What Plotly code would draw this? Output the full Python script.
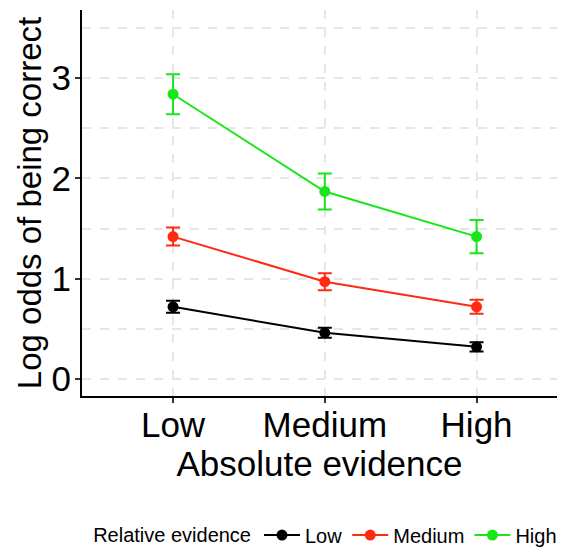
import plotly.graph_objects as go

# Absolute evidence levels (x categories)
absolute = ["Low", "Medium", "High"]

# Log odds of being correct per relative-evidence level
low_vals = [0.72, 0.46, 0.32]
low_err = [0.06, 0.05, 0.045]

medium_vals = [1.42, 0.97, 0.72]
medium_err = [0.09, 0.085, 0.07]

high_vals = [2.84, 1.87, 1.42]
high_err = [0.20, 0.18, 0.165]

series = [
    ("Low", low_vals, low_err, "#000000"),
    ("Medium", medium_vals, medium_err, "#ff2a12"),
    ("High", high_vals, high_err, "#19e619"),
]

fig = go.Figure()
for name, vals, err, color in series:
    fig.add_trace(go.Scatter(
        x=absolute, y=vals, name=name, mode="lines+markers",
        line=dict(color=color, width=2),
        marker=dict(color=color, size=11),
        error_y=dict(type="data", array=err, color=color, thickness=2, width=7),
    ))

font = "Liberation Sans, Arial, sans-serif"
grid = "#e6e6e6"

fig.update_layout(
    width=563, height=551,
    margin=dict(l=82, r=6, t=10, b=155, autoexpand=False),
    plot_bgcolor="white", paper_bgcolor="white",
    font=dict(family=font, color="black"),
    legend=dict(
        orientation="h", x=0.515, xanchor="center",
        yref="container", y=0.029, yanchor="middle",
        title=dict(text="Relative evidence", font=dict(size=20)),
        font=dict(size=20),
        itemwidth=36,
    ),
    xaxis=dict(
        range=[-0.6, 2.53],
        automargin=False,
        showline=True, linecolor="black", linewidth=2,
        ticks="outside", ticklen=5, tickcolor="#333", tickwidth=1.5,
        tickfont=dict(size=35), ticklabelstandoff=-8,
        showgrid=True, gridcolor=grid, griddash="dash", gridwidth=2,
        title=dict(text="Absolute evidence", font=dict(size=35), standoff=2),
        zeroline=False,
    ),
    yaxis=dict(
        range=[-0.17, 3.68],
        automargin=False,
        tickvals=[0, 1, 2, 3],
        showline=True, linecolor="black", linewidth=2,
        ticks="outside", ticklen=5, tickcolor="#333", tickwidth=1.5,
        tickfont=dict(size=35), ticklabelstandoff=-3,
        showgrid=True, gridcolor=grid, griddash="dash", gridwidth=2,
        minor=dict(tickvals=[0.5, 1.5, 2.5, 3.5], showgrid=True, gridcolor=grid,
                   griddash="dash", gridwidth=2),
        title=dict(text="Log odds of being correct", font=dict(size=33), standoff=0),
        zeroline=False,
    ),
)

fig.write_html("out.html")
